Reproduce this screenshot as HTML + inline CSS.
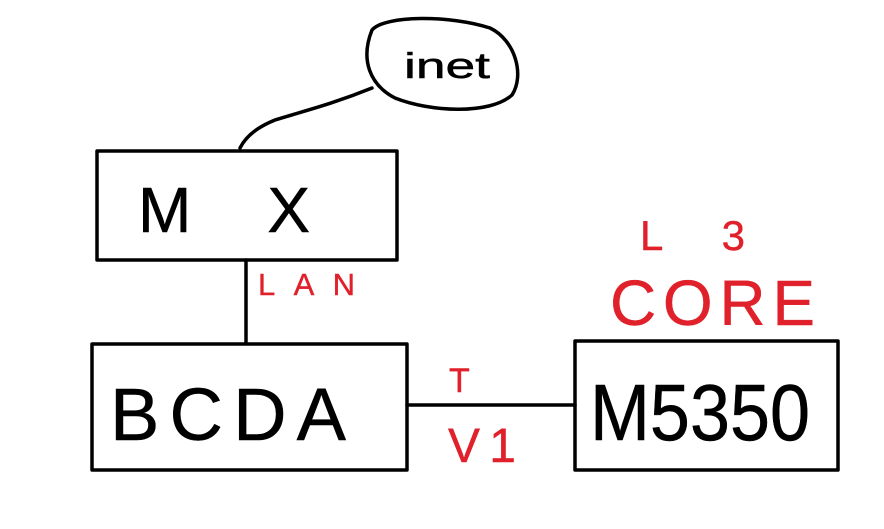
<!DOCTYPE html>
<html><head><meta charset="utf-8"><style>
html,body{margin:0;padding:0;background:#fff;}
svg{display:block}
text{font-family:"Liberation Sans",sans-serif;}
</style></head><body>
<svg width="884" height="529" viewBox="0 0 884 529" xmlns="http://www.w3.org/2000/svg">
<g fill="none" stroke="#000" stroke-width="3.5" stroke-linecap="round" stroke-linejoin="round">
<path d="M372,30 C360,60 370,85 395,98 C430,112 490,115 512,95 C525,75 515,40 490,28 C450,15 385,15 372,30 Z"/>
<path d="M372,88 C330,105 300,112 275,120 C255,128 245,138 240,148"/>
<rect x="97" y="151" width="300" height="109"/>
<line x1="246" y1="260" x2="246" y2="343"/>
<rect x="92" y="344" width="315" height="126"/>
<line x1="407" y1="405" x2="575" y2="405"/>
<rect x="575" y="341" width="263" height="129"/>
</g>
<g fill="#000" stroke="#000" stroke-width="0.5">
<text x="404" y="78" font-size="36" textLength="86" lengthAdjust="spacingAndGlyphs">inet</text>
<text x="138" y="232" font-size="64" textLength="172" lengthAdjust="spacing">MX</text>
<text x="110" y="440" font-size="74" textLength="236" lengthAdjust="spacing">BCDA</text>
<text x="590" y="440" font-size="80" textLength="220" lengthAdjust="spacingAndGlyphs">M5350</text>
</g>
<g fill="#e0202a" stroke="#e0202a" stroke-width="0.4">
<text x="258" y="295" font-size="31" textLength="97" lengthAdjust="spacing">LAN</text>
<text x="449" y="392" font-size="34">T</text>
<text x="448" y="462" font-size="48" textLength="68" lengthAdjust="spacing">V1</text>
<text x="640" y="250" font-size="42" textLength="105" lengthAdjust="spacing">L3</text>
<text x="610" y="325" font-size="64" textLength="205" lengthAdjust="spacing">CORE</text>
</g>
</svg>
</body></html>
